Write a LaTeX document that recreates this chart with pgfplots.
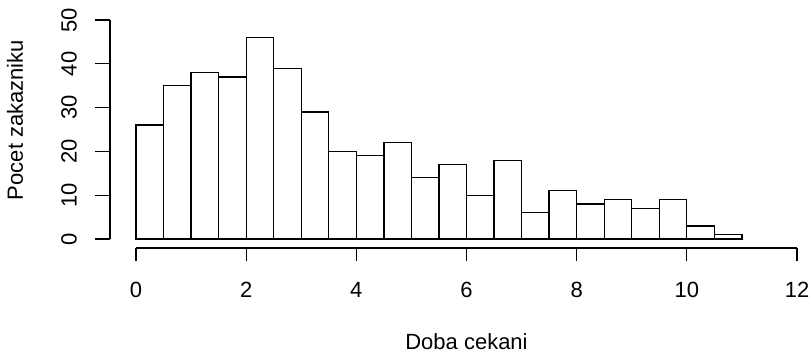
\documentclass[border=0pt]{standalone}
\usepackage{fontspec}
\setmainfont{Liberation Sans}
\usepackage{pgfplots}
\pgfplotsset{compat=1.18}
\begin{document}
\begin{tikzpicture}
\useasboundingbox (0,0) rectangle (406pt,176pt);
\begin{axis}[
  at={(68pt,56.5pt)}, anchor=south west,
  scale only axis, width=330.5pt, height=109.5pt,
  xmin=0, xmax=12, ymin=0, ymax=50,
  hide axis, clip=false,
  font=\fontsize{11}{13}\selectfont,
]
\addplot[ybar interval, fill=white, draw=black, line width=0.65pt] coordinates {
(0,26) (0.5,35) (1,38) (1.5,37) (2,46) (2.5,39) (3,29) (3.5,20) (4,19) (4.5,22)
(5,14) (5.5,17) (6,10) (6.5,18) (7,6) (7.5,11) (8,8) (8.5,9) (9,7) (9.5,9)
(10,3) (10.5,1) (11,1)
};
% y axis (R style, offset)
\draw[line width=0.6pt] ([xshift=-13pt]axis cs:0,0) -- ([xshift=-13pt]axis cs:0,50);
\pgfplotsinvokeforeach{0,10,20,30,40,50}{
  \draw[line width=0.6pt] ([xshift=-13pt]axis cs:0,#1) -- ++(-7.5pt,0);
  \node[rotate=90, anchor=center] at ([xshift=-33.5pt]axis cs:0,#1) {#1};
}
% x axis
\draw[line width=0.6pt] ([yshift=-4.5pt]axis cs:0,0) -- ([yshift=-4.5pt]axis cs:12,0);
\pgfplotsinvokeforeach{0,2,4,6,8,10,12}{
  \draw[line width=0.6pt] ([yshift=-4.5pt]axis cs:#1,0) -- ++(0,-6.5pt);
  \node[anchor=center] at ([yshift=-25.5pt]axis cs:#1,0) {#1};
}
\node[anchor=center] at ([yshift=-51.5pt]axis cs:6,0) {Doba cekani};
\node[rotate=90, anchor=center] at ([xshift=-60.5pt,yshift=59.5pt]axis cs:0,0) {Pocet zakazniku};
\end{axis}
\end{tikzpicture}
\end{document}
